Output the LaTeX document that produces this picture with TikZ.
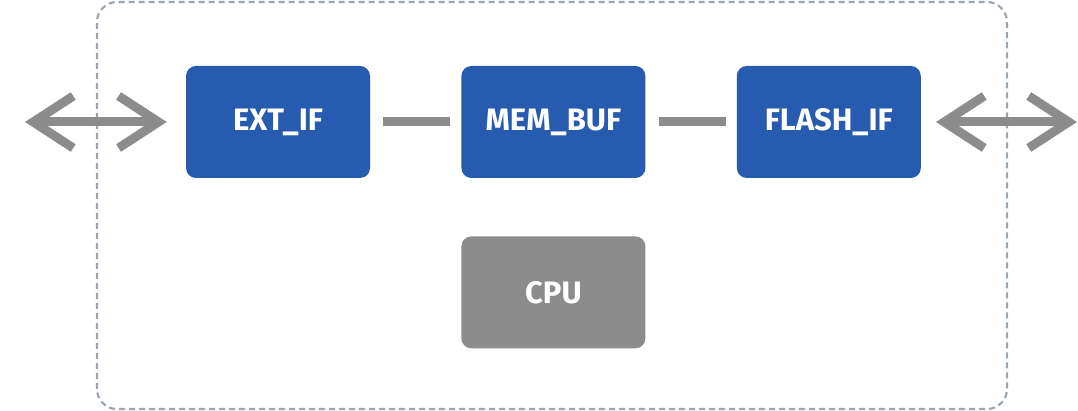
\documentclass[tikz,border=0pt]{standalone}
\usepackage{fontspec}
\setsansfont{Fira Sans}
\usetikzlibrary{arrows.meta, positioning}
\definecolor{blockBlue}{HTML}{265BAF}
\definecolor{cpuGray}{HTML}{8C8C8C}
\definecolor{linkGray}{HTML}{8C8C8C}
\definecolor{groupEdge}{HTML}{9AA5B4}
\tikzset{
    block/.style={rectangle, rounded corners=10pt, minimum width=184pt, minimum height=112pt, fill=blockBlue, text=white, font=\sffamily\bfseries\fontsize{31}{36}\selectfont, inner sep=0pt},
    cpublock/.style={block, fill=cpuGray},
    link/.style={line width=9pt, draw=linkGray, shorten <=13pt, shorten >=11pt},
    port/.style={line width=9pt, draw=linkGray, {Straight Barb[sharp, length=40pt, width=52pt]}-{Straight Barb[sharp, length=40pt, width=52pt]}},
    groupbox/.style={draw=groupEdge, line width=2.2pt, dash pattern=on 6pt off 4pt, rounded corners=20pt}
}
\begin{document}
\begin{tikzpicture}[x=1pt, y=1pt, node distance=91pt]
    \useasboundingbox (0,0) rectangle (1078,411);

    % Controller boundary
    \draw [groupbox] (97,2) rectangle (1007,409);

    % Data path
    \node (ext) [block] at (278,289) {EXT\_IF};
    \node (mem) [block, right=of ext] {MEM\_BUF};
    \node (flash) [block, right=of mem] {FLASH\_IF};

    \node (cpu) [cpublock, below=58pt of mem] {CPU};

    % Outside ends
    \coordinate (hostEnd) at (25,289);
    \coordinate (nandEnd) at (1077,289);

    % Connecting
    \draw [link] (ext) -- (mem);
    \draw [link] (mem) -- (flash);

    \draw [port, shorten >=19pt] (hostEnd) -- (ext.west);
    \draw [port, shorten <=15pt] (flash.east) -- (nandEnd);

\end{tikzpicture}
\end{document}
